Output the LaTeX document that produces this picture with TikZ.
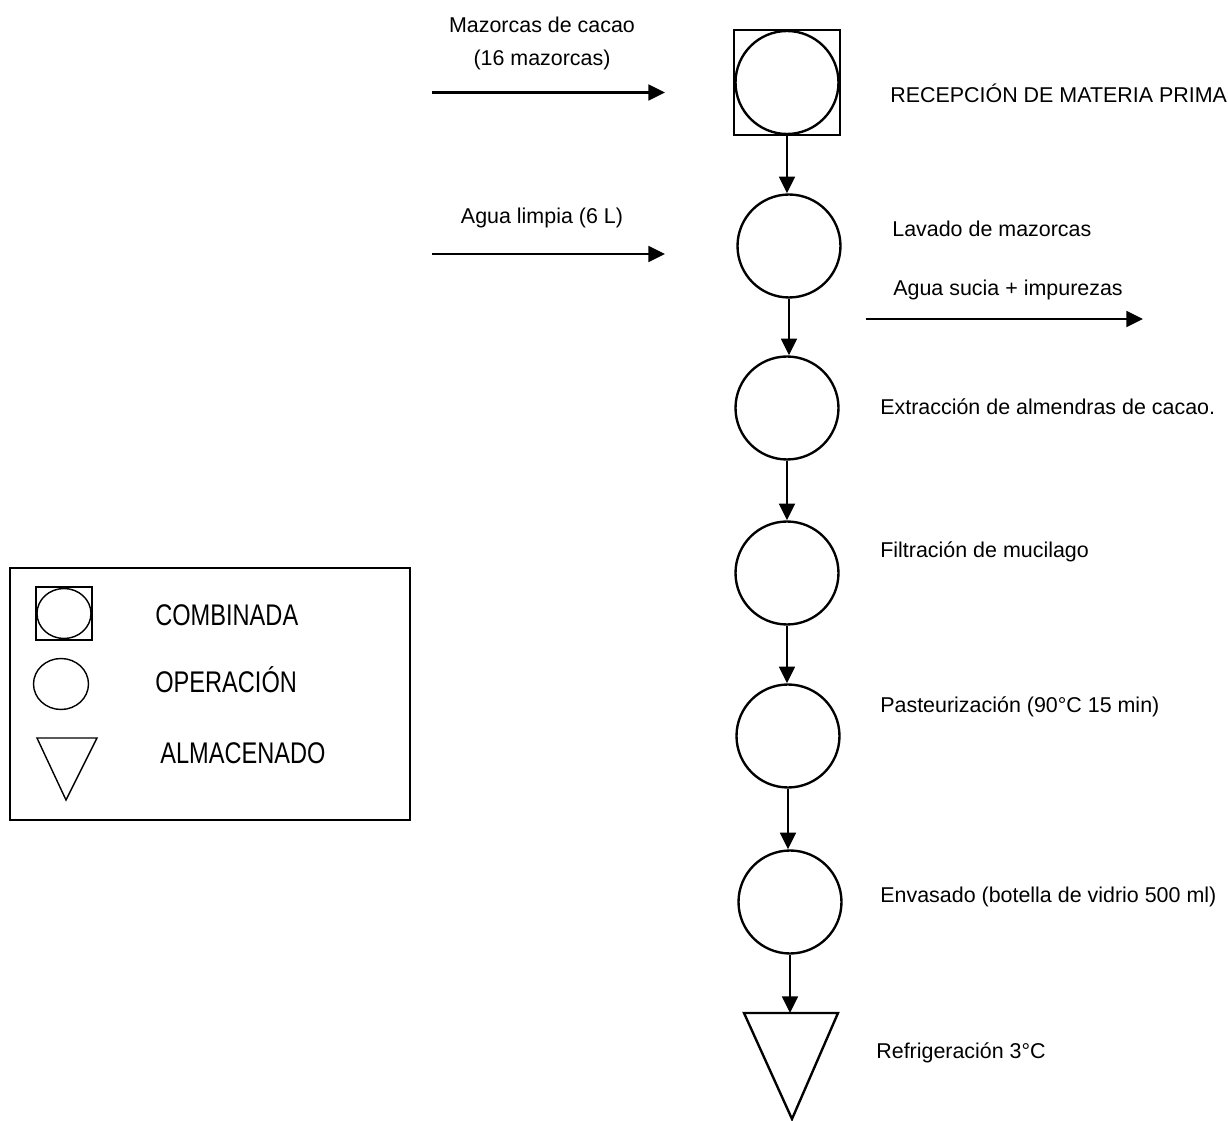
\documentclass[tikz,border=0pt]{standalone}
\usepackage{fontspec}
\setmainfont{Liberation Sans}
\newfontfamily\legfont[FakeStretch=0.79]{Liberation Sans}
\usetikzlibrary{arrows.meta,shapes.geometric}
\begin{document}
\begin{tikzpicture}[x=0.02cm,y=-0.02cm,
  flow/.style={line width=1.35pt,-{Triangle[length=9.5pt,width=9pt]}},
  opcircle/.style={draw,circle,line width=1.35pt,minimum size=2.06cm,inner sep=0pt},
  combsquare/.style={draw,rectangle,line width=1.35pt,minimum width=2.12cm,minimum height=2.1cm,inner sep=0pt},
  lbl/.style={anchor=west,inner sep=0pt,font=\fontsize{12.2}{14}\selectfont},
  clbl/.style={anchor=center,inner sep=0pt,align=center,font=\fontsize{12.2}{18.8}\selectfont},
  legtxt/.style={anchor=west,inner sep=0pt,font=\legfont\fontsize{17}{20}\selectfont},
  legline/.style={line width=0.8pt}
]
\useasboundingbox (0,0) rectangle (1228,1121);

% main flow
\node[combsquare] (sq1) at (787,82.5) {};
\node[opcircle] (c1) at (787,82.5) {};
\node[opcircle] (c2) at (789,246) {};
\node[opcircle] (c3) at (787,408) {};
\node[opcircle] (c4) at (787,573) {};
\node[opcircle] (c5) at (788,736) {};
\node[opcircle] (c6) at (790,902) {};
\coordinate (t7a) at (744,1013);
\coordinate (t7b) at (838,1013);
\coordinate (t7c) at (792,1119);
\coordinate (t7) at (790,1013);
\draw[line width=1.35pt,line join=miter] (t7a) -- (t7b) -- (t7c) -- cycle;

\draw[flow] (sq1.south) -- (sq1.south |- c2.north);
\draw[flow] (c2.south) -- (c2.south |- c3.north);
\draw[flow] (c3.south) -- (c3.south |- c4.north);
\draw[flow] (c4.south) -- (c4.south |- c5.north);
\draw[flow] (c5.south) -- (c5.south |- c6.north);
\draw[flow] (c6.south) -- (t7);

% inputs / outputs
\coordinate (in1s) at (432,92.5);
\coordinate (in1e) at (665,92.5);
\coordinate (in2s) at (432,254);
\coordinate (in2e) at (665,254);
\coordinate (out1s) at (866,319);
\coordinate (out1e) at (1143,319);
\draw[flow] (in1s) -- (in1e);
\draw[flow] (in2s) -- (in2e);
\draw[flow] (out1s) -- (out1e);

\node[clbl] (tin1) at (542,43.5) {Mazorcas de cacao\\(16 mazorcas)};
\node[clbl] (tin2) at (542,218) {Agua limpia (6 L)};
\node[lbl] (tout1) at (893,290) {Agua sucia + impurezas};

% step labels
\node[lbl] (l1) at (890,93) {RECEPCIÓN DE MATERIA PRIMA};
\node[lbl] (l2) at (892,229) {Lavado de mazorcas};
\node[lbl] (l3) at (880,407) {Extracción de almendras de cacao.};
\node[lbl] (l4) at (880,552) {Filtración de mucilago};
\node[lbl] (l5) at (880,707) {Pasteurización (90°C 15 min)};
\node[lbl] (l6) at (880,897) {Envasado (botella de vidrio 500 ml)};
\node[lbl] (l7) at (876,1053) {Refrigeración 3°C};

% legend
\draw[legline] (10,568) rectangle (410,820);
\node[draw,rectangle,legline,minimum width=1.12cm,minimum height=1.06cm,inner sep=0pt] (lsq) at (64,613.5) {};
\node[draw,ellipse,legline,minimum width=1.08cm,minimum height=1.0cm,inner sep=0pt] (lc1) at (64,613.5) {};
\node[draw,ellipse,legline,minimum width=1.1cm,minimum height=1.02cm,inner sep=0pt] (lc2) at (61,684) {};
\coordinate (lta) at (37,738);
\coordinate (ltb) at (97,738);
\coordinate (ltc) at (66,800);
\draw[legline] (lta) -- (ltb) -- (ltc) -- cycle;
\node[legtxt] (lt1) at (155,615) {COMBINADA};
\node[legtxt] (lt2) at (155,680) {OPERACIÓN};
\node[legtxt] (lt3) at (160,753) {ALMACENADO};
\end{tikzpicture}
\end{document}
